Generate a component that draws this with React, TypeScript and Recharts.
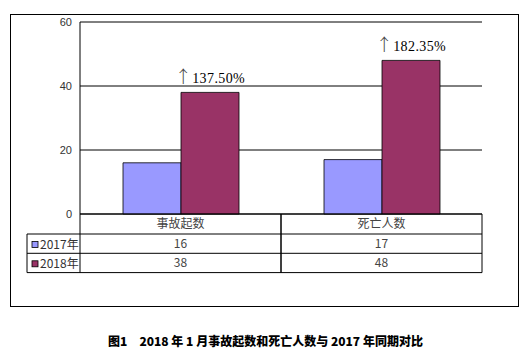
import React from "react";
import { Bar, BarChart, CartesianGrid, LabelList, XAxis, YAxis } from "recharts";

const categories = ["事故起数", "死亡人数"];
const values2017 = [16, 17];
const values2018 = [38, 48];
const growth = ["137.50%", "182.35%"];
const seriesNames = ["2017年", "2018年"];
const yTicks = [0, 20, 40, 60];
const COLORS = ["#9999FF", "#993366"];

const data = categories.map((name, i) => ({
	name,
	y2017: values2017[i],
	y2018: values2018[i],
	growth: growth[i],
}));

const W = 531;
const H = 359;
const LEFT = 80;
const RIGHT = 49;
const CELL = (W - LEFT - RIGHT) / categories.length;
const ROW = 19.3;
const TABLE_LEFT = 27;

const TableTick = (props: any) => {
	const { x, y, payload } = props;
	const i = payload.index;
	const x0 = x - CELL / 2;
	const x1 = x + CELL / 2;
	const r1 = y + 20;
	const r2 = r1 + ROW;
	const r3 = r2 + ROW;
	const txt = { fontFamily: "'Noto Sans CJK SC', 'Liberation Sans'", fontSize: 12, fill: "#444", textAnchor: "middle" as const };
	const rows = [values2017, values2018];
	return (
		<g>
			<line x1={x0} x2={x1} y1={r1} y2={r1} stroke="#000" />
			<line x1={x0} x2={x1} y1={r2} y2={r2} stroke="#000" />
			<line x1={x0} x2={x1} y1={r3} y2={r3} stroke="#000" />
			<line x1={x0} x2={x0} y1={y} y2={r3} stroke="#000" />
			<line x1={x1} x2={x1} y1={y} y2={r3} stroke="#000" />
			<text x={x} y={y + 14} {...txt}>{payload.value}</text>
			{rows.map((vals, k) => (
				<text key={k} x={x} y={r1 + 14 + k * ROW} {...txt}>{vals[i]}</text>
			))}
			{i === 0 && (
				<g>
					<line x1={TABLE_LEFT} x2={x0} y1={r1} y2={r1} stroke="#000" />
					<line x1={TABLE_LEFT} x2={x0} y1={r2} y2={r2} stroke="#000" />
					<line x1={TABLE_LEFT} x2={x0} y1={r3} y2={r3} stroke="#000" />
					<line x1={TABLE_LEFT} x2={TABLE_LEFT} y1={r1} y2={r3} stroke="#000" />
					{seriesNames.map((s, k) => (
						<g key={s}>
							<rect x={TABLE_LEFT + 5} y={r1 + 7.5 + k * ROW} width={6} height={6} fill={COLORS[k]} stroke="#000" strokeWidth={0.8} />
							<text x={TABLE_LEFT + 13} y={r1 + 14.5 + k * ROW} {...txt} textAnchor="start" fill="#333">{s}</text>
						</g>
					))}
				</g>
			)}
		</g>
	);
};

const GrowthLabel = (props: any) => {
	const { x, y, width, value } = props;
	return (
		<text
			x={x + width / 2}
			y={y - 9}
			textAnchor="middle"
			fontFamily="'Liberation Serif', 'DejaVu Serif'"
			fontSize={14}
			letterSpacing={0.4}
			fill="#000"
		>
			<tspan fill="#444" fontSize={17} fontFamily="'Noto Sans CJK SC'" fontWeight={300}>↑</tspan>
			{value}
		</text>
	);
};

export default function App() {
	return (
		<div style={{ position: "absolute", left: 0, top: 0, width: W, height: H, background: "#fff" }}>
			<div style={{ position: "absolute", left: 10, top: 14, width: 507, height: 291, border: "1px solid #000" }} />
			<BarChart
				width={W}
				height={H}
				data={data}
				margin={{ top: 22, right: RIGHT, left: 0, bottom: 87 }}
				barGap={0}
				barSize={58}
				style={{ position: "absolute", left: 0, top: 0 }}
			>
				<CartesianGrid horizontal vertical={false} stroke="#000" strokeOpacity={1} />
				<XAxis
					dataKey="name"
					height={58}
					axisLine={{ stroke: "#000" }}
					tickLine={false}
					tickSize={0}
					tickMargin={0}
					interval={0}
					tick={<TableTick />}
				/>
				<YAxis
					domain={[0, 60]}
					ticks={yTicks}
					width={LEFT}
					axisLine={{ stroke: "#000" }}
					tickLine={false}
					tick={{ fontFamily: "'Liberation Sans', Arial", fontSize: 11, fill: "#333" }}
				/>
				<YAxis
					yAxisId="right"
					orientation="right"
					domain={[0, 60]}
					ticks={yTicks}
					width={0}
					axisLine={{ stroke: "#000" }}
					tickLine={false}
					tick={false}
				/>
				<Bar dataKey="y2017" fill={COLORS[0]} stroke="#000" strokeWidth={0.8} isAnimationActive={false} />
				<Bar dataKey="y2018" fill={COLORS[1]} stroke="#000" strokeWidth={0.8} isAnimationActive={false}>
					<LabelList dataKey="growth" content={<GrowthLabel />} />
				</Bar>
			</BarChart>
			<div
				style={{
					position: "absolute",
					left: 0,
					width: W,
					top: 332,
					textAlign: "center",
					fontFamily: "'Noto Sans CJK SC', 'DejaVu Sans'",
					fontWeight: 900,
					fontSize: 12,
					whiteSpace: "pre",
				}}
			>
				{"图1　2018 年 1 月事故起数和死亡人数与 2017 年同期对比"}
			</div>
		</div>
	);
}
